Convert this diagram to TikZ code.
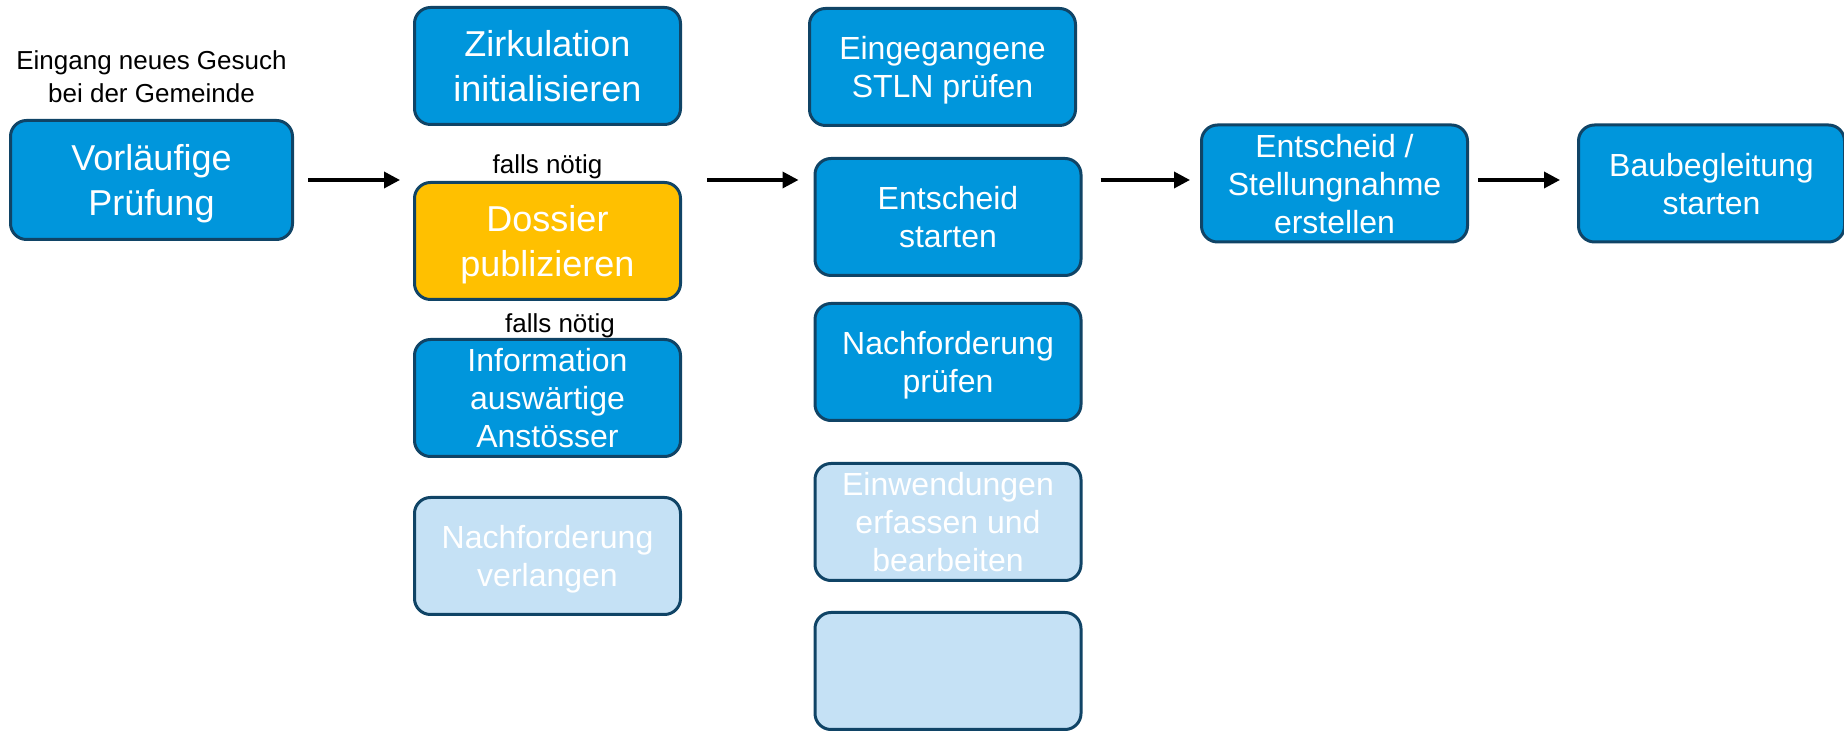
\documentclass[tikz,border=0pt]{standalone}
\usepackage{fontspec}
\setmainfont{Liberation Sans}
\usetikzlibrary{positioning, arrows.meta}
\definecolor{boxblue}{RGB}{0,150,220}
\definecolor{boxline}{RGB}{16,68,102}
\definecolor{boxyellow}{RGB}{255,192,0}
\definecolor{boxpale}{RGB}{197,225,245}
\tikzset{
  task/.style={
    rectangle, rounded corners=8pt,
    draw=boxline, fill=boxblue,
    line width=1.5pt, text=white, align=center,
    minimum width=133pt, minimum height=58.5pt,
    inner sep=2pt, text depth=-2.5pt,
    font=\fontsize{16pt}{19pt}\selectfont
  },
  bigtask/.style={
    task,
    font=\fontsize{18pt}{22.5pt}\selectfont
  },
  published/.style={bigtask, fill=boxyellow},
  pending/.style={task, fill=boxpale},
  note/.style={
    inner sep=0pt, align=center,
    font=\fontsize{13pt}{16.5pt}\selectfont
  },
  arrow/.style={line width=1.75pt, -{Triangle[length=8pt, width=8pt]}}
}

\begin{document}
\begin{tikzpicture}

\useasboundingbox (0,0) rectangle (922pt,-365.5pt);

% ==============================================================================
% Eingang
% ==============================================================================
\node[bigtask, minimum width=141pt, minimum height=59.5pt] (vorl) at (75.75pt,-90pt) {
  Vorläufige\\Prüfung
};

\node[note, above=8pt of vorl] (eingang) {
  Eingang neues Gesuch\\bei der Gemeinde
};

% ==============================================================================
% Zirkulation
% ==============================================================================
\node[bigtask] (zirk) at (273.75pt,-33pt) {
  Zirkulation\\initialisieren
};

\node[published, below=27.5pt of zirk] (dossier) {
  Dossier\\publizieren
};

\node[task, below=18.5pt of dossier] (info) {
  Information\\auswärtige\\Anstösser
};

\node[pending, below=19pt of info] (nachverl) {
  Nachforderung\\verlangen
};

\node[note, above=1pt of dossier] (falls1) {falls nötig};
\node[note, above=0pt of info, xshift=6.25pt] (falls2) {falls nötig};

% ==============================================================================
% Stellungnahmen
% ==============================================================================
\node[task] (stln) at (471.25pt,-33.5pt) {
  Eingegangene\\STLN prüfen
};

\node[task, below=15pt of stln, xshift=2.75pt] (entstart) {
  Entscheid\\starten
};

\node[task, below=12.5pt of entstart] (nachpr) {
  Nachforderung\\prüfen
};

\node[pending, below=20pt of nachpr] (einw) {
  Einwendungen\\erfassen und\\bearbeiten
};

\node[pending, below=14.5pt of einw] (leer) {};

% ==============================================================================
% Entscheid
% ==============================================================================
\node[task] (entsch) at (667.25pt,-91.75pt) {
  Entscheid /\\Stellungnahme\\erstellen
};

\node[task, right=54pt of entsch] (baub) {
  Baubegleitung\\starten
};

% ==============================================================================
% Arrows
% ==============================================================================
\draw[arrow] ([xshift=7pt]vorl.east) -- ([xshift=-6.5pt]vorl.east -| dossier.west);
\draw[arrow] ([xshift=12.5pt]vorl.east -| dossier.east) -- ([xshift=-7.5pt]vorl.east -| entstart.west);
\draw[arrow] ([xshift=9pt]vorl.east -| entstart.east) -- ([xshift=-5pt]vorl.east -| entsch.west);
\draw[arrow] ([xshift=4.5pt]vorl.east -| entsch.east) -- ([xshift=-8.5pt]vorl.east -| baub.west);

\end{tikzpicture}
\end{document}
